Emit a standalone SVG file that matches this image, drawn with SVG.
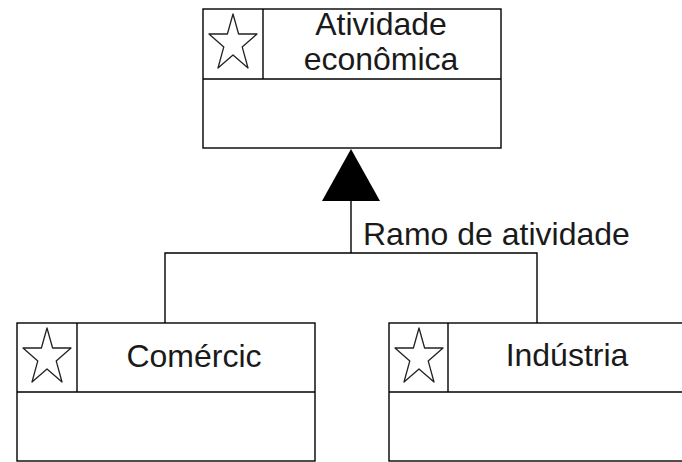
<svg xmlns="http://www.w3.org/2000/svg" width="682" height="462" viewBox="0 0 682 462">
<style>
.box{fill:#fff;stroke:#000;stroke-width:1.4}
.ln{fill:none;stroke:#000;stroke-width:1.4}
.star{fill:#fff;stroke:#222;stroke-width:1.3;stroke-linejoin:round}
.t{font-family:"Liberation Sans",Arial,sans-serif;font-size:32px;fill:#1a1a1a}
.c{text-anchor:middle}
</style>
<defs>
<path id="star" d="M30,5 L35.6,25 L54,25 L39.2,37.9 L45,59 L30,45.9 L15,59 L20.8,37.9 L6,25 L24.4,25 Z"/>
</defs>
<rect width="682" height="462" fill="#fff"/>
<g id="connectors">
<polyline class="ln" points="165,323 165,253 537,253 537,323"/>
<line class="ln" x1="351" y1="253" x2="351" y2="200"/>
<polygon points="351,149 380,201 322,201" fill="#000"/>
<text class="t" x="363" y="245">Ramo de atividade</text>
</g>
<g id="atividade">
<rect class="box" x="203" y="9" width="298" height="139"/>
<line class="ln" x1="203" y1="79" x2="501" y2="79"/>
<line class="ln" x1="263" y1="9" x2="263" y2="79"/>
<use href="#star" class="star" transform="translate(203,9)"/>
<text class="t c" x="381" y="35">Atividade</text>
<text class="t c" x="381" y="70">econômica</text>
</g>
<g id="comercio">
<rect class="box" x="17" y="323" width="298" height="138"/>
<line class="ln" x1="17" y1="392" x2="315" y2="392"/>
<line class="ln" x1="77" y1="323" x2="77" y2="392"/>
<use href="#star" class="star" transform="translate(17,323)"/>
<text class="t c" x="194" y="367">Comércic</text>
</g>
<g id="industria">
<rect class="box" x="389" y="323" width="298" height="138"/>
<line class="ln" x1="389" y1="392" x2="687" y2="392"/>
<line class="ln" x1="448" y1="323" x2="448" y2="392"/>
<use href="#star" class="star" transform="translate(389,323)"/>
<text class="t c" x="567" y="366">Indústria</text>
</g>
</svg>
